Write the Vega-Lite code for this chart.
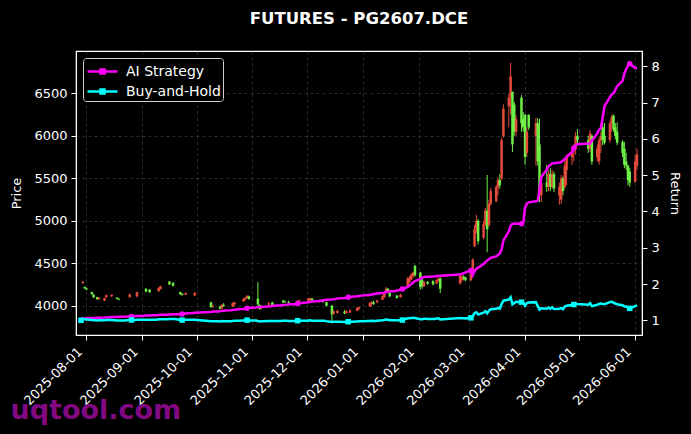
{
"$schema": "https://vega.github.io/schema/vega-lite/v6.json",
"width": 566, "height": 284,
"autosize": {"type": "none"},
"padding": {"left": 76, "top": 51, "right": 49, "bottom": 99},
"background": "#000000",
"title": {"text": "FUTURES - PG2607.DCE", "color": "#ffffff", "fontSize": 16.5, "fontWeight": "bold", "font": "DejaVu Sans", "anchor": "middle", "baseline": "alphabetic", "offset": 11},
"data": {"values": [
{"d":"2025-07-29","o":4100,"h":4100,"l":4100,"c":4100,"ai":1.0,"bh":1.0},
{"d":"2025-07-30","o":4265,"h":4290,"l":4260,"c":4282,"ai":1.05,"bh":1.044},
{"d":"2025-07-31","o":4220,"h":4225,"l":4200,"c":4205,"ai":1.05,"bh":1.026},
{"d":"2025-08-01","o":4205,"h":4210,"l":4185,"c":4190,"ai":1.055,"bh":1.022},
{"d":"2025-08-04","o":4160,"h":4165,"l":4130,"c":4135,"ai":1.06,"bh":1.009},
{"d":"2025-08-05","o":4130,"h":4135,"l":4090,"c":4100,"ai":1.06,"bh":1.0},
{"d":"2025-08-06","o":4100,"h":4100,"l":4100,"c":4100,"ai":1.065,"bh":1.0},
{"d":"2025-08-07","o":4100,"h":4105,"l":4070,"c":4075,"ai":1.07,"bh":0.994},
{"d":"2025-08-08","o":4080,"h":4100,"l":4070,"c":4095,"ai":1.07,"bh":0.999},
{"d":"2025-08-11","o":4060,"h":4095,"l":4055,"c":4090,"ai":1.075,"bh":0.998},
{"d":"2025-08-12","o":4100,"h":4130,"l":4095,"c":4125,"ai":1.08,"bh":1.006},
{"d":"2025-08-13","o":4125,"h":4125,"l":4125,"c":4125,"ai":1.08,"bh":1.006},
{"d":"2025-08-14","o":4125,"h":4125,"l":4125,"c":4125,"ai":1.085,"bh":1.006},
{"d":"2025-08-15","o":4110,"h":4135,"l":4105,"c":4130,"ai":1.09,"bh":1.007},
{"d":"2025-08-18","o":4095,"h":4100,"l":4075,"c":4080,"ai":1.09,"bh":0.995},
{"d":"2025-08-19","o":4080,"h":4085,"l":4065,"c":4070,"ai":1.095,"bh":0.993},
{"d":"2025-08-20","o":4070,"h":4070,"l":4070,"c":4070,"ai":1.095,"bh":0.993},
{"d":"2025-08-21","o":4070,"h":4070,"l":4070,"c":4070,"ai":1.1,"bh":0.993},
{"d":"2025-08-22","o":4070,"h":4070,"l":4070,"c":4070,"ai":1.1,"bh":0.993},
{"d":"2025-08-25","o":4100,"h":4140,"l":4095,"c":4135,"ai":1.105,"bh":1.009},
{"d":"2025-08-26","o":4135,"h":4135,"l":4135,"c":4135,"ai":1.105,"bh":1.009},
{"d":"2025-08-27","o":4135,"h":4135,"l":4135,"c":4135,"ai":1.11,"bh":1.009},
{"d":"2025-08-28","o":4135,"h":4135,"l":4135,"c":4135,"ai":1.115,"bh":1.009},
{"d":"2025-08-29","o":4110,"h":4165,"l":4100,"c":4160,"ai":1.12,"bh":1.015},
{"d":"2025-09-01","o":4160,"h":4160,"l":4160,"c":4160,"ai":1.12,"bh":1.015},
{"d":"2025-09-02","o":4160,"h":4160,"l":4160,"c":4160,"ai":1.125,"bh":1.015},
{"d":"2025-09-03","o":4200,"h":4205,"l":4160,"c":4165,"ai":1.13,"bh":1.016},
{"d":"2025-09-04","o":4165,"h":4165,"l":4165,"c":4165,"ai":1.13,"bh":1.016},
{"d":"2025-09-05","o":4190,"h":4195,"l":4150,"c":4160,"ai":1.135,"bh":1.015},
{"d":"2025-09-08","o":4160,"h":4160,"l":4160,"c":4160,"ai":1.14,"bh":1.015},
{"d":"2025-09-09","o":4160,"h":4160,"l":4160,"c":4160,"ai":1.14,"bh":1.015},
{"d":"2025-09-10","o":4170,"h":4215,"l":4165,"c":4210,"ai":1.145,"bh":1.027},
{"d":"2025-09-11","o":4195,"h":4235,"l":4190,"c":4230,"ai":1.15,"bh":1.032},
{"d":"2025-09-12","o":4230,"h":4230,"l":4230,"c":4230,"ai":1.15,"bh":1.032},
{"d":"2025-09-15","o":4230,"h":4230,"l":4230,"c":4230,"ai":1.155,"bh":1.032},
{"d":"2025-09-16","o":4285,"h":4290,"l":4245,"c":4250,"ai":1.16,"bh":1.037},
{"d":"2025-09-17","o":4250,"h":4250,"l":4250,"c":4250,"ai":1.16,"bh":1.037},
{"d":"2025-09-18","o":4270,"h":4275,"l":4225,"c":4235,"ai":1.165,"bh":1.033},
{"d":"2025-09-19","o":4235,"h":4235,"l":4235,"c":4235,"ai":1.17,"bh":1.033},
{"d":"2025-09-22","o":4160,"h":4165,"l":4130,"c":4135,"ai":1.17,"bh":1.009},
{"d":"2025-09-23","o":4140,"h":4145,"l":4120,"c":4125,"ai":1.175,"bh":1.006},
{"d":"2025-09-24","o":4125,"h":4125,"l":4125,"c":4125,"ai":1.18,"bh":1.006},
{"d":"2025-09-25","o":4130,"h":4155,"l":4125,"c":4150,"ai":1.19,"bh":1.012},
{"d":"2025-09-26","o":4150,"h":4150,"l":4150,"c":4150,"ai":1.195,"bh":1.012},
{"d":"2025-09-29","o":4150,"h":4150,"l":4150,"c":4150,"ai":1.2,"bh":1.012},
{"d":"2025-09-30","o":4120,"h":4160,"l":4115,"c":4150,"ai":1.21,"bh":1.012},
{"d":"2025-10-09","o":4040,"h":4045,"l":3975,"c":3985,"ai":1.23,"bh":0.972},
{"d":"2025-10-10","o":3990,"h":4010,"l":3970,"c":4000,"ai":1.24,"bh":0.976},
{"d":"2025-10-13","o":4000,"h":4000,"l":4000,"c":4000,"ai":1.245,"bh":0.976},
{"d":"2025-10-14","o":3990,"h":4000,"l":3955,"c":3965,"ai":1.25,"bh":0.967},
{"d":"2025-10-15","o":3970,"h":4020,"l":3960,"c":4010,"ai":1.26,"bh":0.978},
{"d":"2025-10-16","o":4010,"h":4030,"l":3990,"c":3995,"ai":1.265,"bh":0.974},
{"d":"2025-10-17","o":3995,"h":3995,"l":3995,"c":3995,"ai":1.27,"bh":0.974},
{"d":"2025-10-20","o":3995,"h":3995,"l":3995,"c":3995,"ai":1.28,"bh":0.974},
{"d":"2025-10-21","o":3990,"h":4040,"l":3985,"c":4030,"ai":1.285,"bh":0.983},
{"d":"2025-10-22","o":4015,"h":4045,"l":4000,"c":4040,"ai":1.29,"bh":0.985},
{"d":"2025-10-23","o":4040,"h":4040,"l":4040,"c":4040,"ai":1.3,"bh":0.985},
{"d":"2025-10-24","o":4040,"h":4040,"l":4040,"c":4040,"ai":1.305,"bh":0.985},
{"d":"2025-10-27","o":4050,"h":4090,"l":4045,"c":4080,"ai":1.31,"bh":0.995},
{"d":"2025-10-28","o":4075,"h":4100,"l":4060,"c":4095,"ai":1.32,"bh":0.999},
{"d":"2025-10-29","o":4090,"h":4125,"l":4085,"c":4115,"ai":1.33,"bh":1.004},
{"d":"2025-10-30","o":4110,"h":4120,"l":4070,"c":4080,"ai":1.34,"bh":0.995},
{"d":"2025-10-31","o":4080,"h":4080,"l":4080,"c":4080,"ai":1.345,"bh":0.995},
{"d":"2025-11-03","o":4080,"h":4080,"l":4080,"c":4080,"ai":1.35,"bh":0.995},
{"d":"2025-11-04","o":4085,"h":4280,"l":4000,"c":4015,"ai":1.36,"bh":0.979},
{"d":"2025-11-05","o":4010,"h":4015,"l":3950,"c":3965,"ai":1.365,"bh":0.967},
{"d":"2025-11-06","o":3970,"h":4000,"l":3960,"c":3990,"ai":1.37,"bh":0.973},
{"d":"2025-11-07","o":3990,"h":3990,"l":3990,"c":3990,"ai":1.375,"bh":0.973},
{"d":"2025-11-10","o":4010,"h":4040,"l":4005,"c":4030,"ai":1.38,"bh":0.983},
{"d":"2025-11-11","o":4030,"h":4030,"l":4030,"c":4030,"ai":1.39,"bh":0.983},
{"d":"2025-11-12","o":4040,"h":4045,"l":4000,"c":4010,"ai":1.395,"bh":0.978},
{"d":"2025-11-13","o":4010,"h":4010,"l":4010,"c":4010,"ai":1.4,"bh":0.978},
{"d":"2025-11-14","o":4010,"h":4010,"l":4010,"c":4010,"ai":1.405,"bh":0.978},
{"d":"2025-11-17","o":4010,"h":4010,"l":4010,"c":4010,"ai":1.41,"bh":0.978},
{"d":"2025-11-18","o":4060,"h":4070,"l":4030,"c":4040,"ai":1.42,"bh":0.985},
{"d":"2025-11-19","o":4050,"h":4060,"l":4035,"c":4040,"ai":1.425,"bh":0.985},
{"d":"2025-11-20","o":4040,"h":4040,"l":4040,"c":4040,"ai":1.43,"bh":0.985},
{"d":"2025-11-21","o":4045,"h":4060,"l":4030,"c":4035,"ai":1.44,"bh":0.984},
{"d":"2025-11-24","o":4035,"h":4035,"l":4035,"c":4035,"ai":1.445,"bh":0.984},
{"d":"2025-11-25","o":4035,"h":4035,"l":4035,"c":4035,"ai":1.45,"bh":0.984},
{"d":"2025-11-26","o":4030,"h":4065,"l":4020,"c":4055,"ai":1.46,"bh":0.989},
{"d":"2025-11-27","o":4055,"h":4070,"l":4040,"c":4060,"ai":1.47,"bh":0.99},
{"d":"2025-11-28","o":4060,"h":4060,"l":4060,"c":4060,"ai":1.48,"bh":0.99},
{"d":"2025-12-01","o":4060,"h":4060,"l":4060,"c":4060,"ai":1.49,"bh":0.99},
{"d":"2025-12-02","o":4050,"h":4090,"l":4045,"c":4085,"ai":1.5,"bh":0.996},
{"d":"2025-12-03","o":4070,"h":4095,"l":4060,"c":4090,"ai":1.505,"bh":0.998},
{"d":"2025-12-04","o":4085,"h":4090,"l":4050,"c":4060,"ai":1.515,"bh":0.99},
{"d":"2025-12-05","o":4060,"h":4060,"l":4060,"c":4060,"ai":1.52,"bh":0.99},
{"d":"2025-12-08","o":4065,"h":4070,"l":4040,"c":4050,"ai":1.53,"bh":0.988},
{"d":"2025-12-09","o":4050,"h":4050,"l":4050,"c":4050,"ai":1.54,"bh":0.988},
{"d":"2025-12-10","o":4060,"h":4065,"l":4035,"c":4045,"ai":1.55,"bh":0.987},
{"d":"2025-12-11","o":4045,"h":4045,"l":4045,"c":4045,"ai":1.555,"bh":0.987},
{"d":"2025-12-12","o":4040,"h":4045,"l":3990,"c":4000,"ai":1.565,"bh":0.976},
{"d":"2025-12-15","o":4000,"h":4010,"l":3810,"c":3900,"ai":1.57,"bh":0.951},
{"d":"2025-12-16","o":3905,"h":3945,"l":3895,"c":3935,"ai":1.58,"bh":0.96},
{"d":"2025-12-17","o":3935,"h":3935,"l":3935,"c":3935,"ai":1.59,"bh":0.96},
{"d":"2025-12-18","o":3915,"h":3950,"l":3905,"c":3940,"ai":1.6,"bh":0.961},
{"d":"2025-12-19","o":3940,"h":3940,"l":3940,"c":3940,"ai":1.61,"bh":0.961},
{"d":"2025-12-22","o":3930,"h":3950,"l":3900,"c":3910,"ai":1.615,"bh":0.954},
{"d":"2025-12-23","o":3915,"h":3945,"l":3905,"c":3935,"ai":1.625,"bh":0.96},
{"d":"2025-12-24","o":3935,"h":3935,"l":3935,"c":3935,"ai":1.635,"bh":0.96},
{"d":"2025-12-25","o":3920,"h":3955,"l":3915,"c":3945,"ai":1.645,"bh":0.962},
{"d":"2025-12-26","o":3945,"h":3945,"l":3945,"c":3945,"ai":1.65,"bh":0.962},
{"d":"2025-12-29","o":3940,"h":3985,"l":3935,"c":3975,"ai":1.66,"bh":0.97},
{"d":"2025-12-30","o":3965,"h":3990,"l":3950,"c":3980,"ai":1.67,"bh":0.971},
{"d":"2025-12-31","o":3980,"h":3980,"l":3980,"c":3980,"ai":1.68,"bh":0.971},
{"d":"2026-01-05","o":3990,"h":4045,"l":3985,"c":4030,"ai":1.7,"bh":0.983},
{"d":"2026-01-06","o":4020,"h":4050,"l":4000,"c":4040,"ai":1.71,"bh":0.985},
{"d":"2026-01-07","o":4040,"h":4060,"l":4010,"c":4020,"ai":1.72,"bh":0.98},
{"d":"2026-01-08","o":4020,"h":4020,"l":4020,"c":4020,"ai":1.73,"bh":0.98},
{"d":"2026-01-09","o":4040,"h":4070,"l":4030,"c":4060,"ai":1.74,"bh":0.99},
{"d":"2026-01-12","o":4070,"h":4120,"l":4065,"c":4110,"ai":1.75,"bh":1.002},
{"d":"2026-01-13","o":4100,"h":4150,"l":4090,"c":4140,"ai":1.76,"bh":1.01},
{"d":"2026-01-14","o":4150,"h":4220,"l":4140,"c":4200,"ai":1.78,"bh":1.024},
{"d":"2026-01-15","o":4200,"h":4210,"l":4150,"c":4160,"ai":1.79,"bh":1.015},
{"d":"2026-01-16","o":4150,"h":4170,"l":4100,"c":4110,"ai":1.8,"bh":1.002},
{"d":"2026-01-19","o":4110,"h":4110,"l":4110,"c":4110,"ai":1.81,"bh":1.002},
{"d":"2026-01-20","o":4120,"h":4125,"l":4085,"c":4090,"ai":1.82,"bh":0.998},
{"d":"2026-01-21","o":4090,"h":4090,"l":4090,"c":4090,"ai":1.83,"bh":0.998},
{"d":"2026-01-22","o":4100,"h":4140,"l":4095,"c":4130,"ai":1.85,"bh":1.007},
{"d":"2026-01-23","o":4130,"h":4130,"l":4130,"c":4130,"ai":1.86,"bh":1.007},
{"d":"2026-01-26","o":4220,"h":4340,"l":4210,"c":4320,"ai":1.92,"bh":1.054},
{"d":"2026-01-27","o":4280,"h":4350,"l":4270,"c":4330,"ai":1.96,"bh":1.056},
{"d":"2026-01-28","o":4310,"h":4380,"l":4300,"c":4370,"ai":2.0,"bh":1.066},
{"d":"2026-01-29","o":4350,"h":4400,"l":4330,"c":4390,"ai":2.04,"bh":1.071},
{"d":"2026-01-30","o":4470,"h":4480,"l":4340,"c":4360,"ai":2.08,"bh":1.063},
{"d":"2026-02-02","o":4390,"h":4400,"l":4190,"c":4220,"ai":2.14,"bh":1.029},
{"d":"2026-02-03","o":4300,"h":4320,"l":4200,"c":4230,"ai":2.18,"bh":1.032},
{"d":"2026-02-04","o":4230,"h":4290,"l":4220,"c":4280,"ai":2.19,"bh":1.044},
{"d":"2026-02-05","o":4280,"h":4280,"l":4280,"c":4280,"ai":2.2,"bh":1.044},
{"d":"2026-02-06","o":4280,"h":4290,"l":4245,"c":4260,"ai":2.2,"bh":1.039},
{"d":"2026-02-09","o":4290,"h":4300,"l":4240,"c":4250,"ai":2.21,"bh":1.037},
{"d":"2026-02-10","o":4250,"h":4250,"l":4250,"c":4250,"ai":2.21,"bh":1.037},
{"d":"2026-02-11","o":4260,"h":4310,"l":4255,"c":4300,"ai":2.22,"bh":1.049},
{"d":"2026-02-12","o":4290,"h":4330,"l":4285,"c":4320,"ai":2.22,"bh":1.054},
{"d":"2026-02-13","o":4320,"h":4335,"l":4150,"c":4200,"ai":2.23,"bh":1.024},
{"d":"2026-02-24","o":4260,"h":4370,"l":4250,"c":4350,"ai":2.26,"bh":1.061},
{"d":"2026-02-25","o":4300,"h":4360,"l":4280,"c":4340,"ai":2.28,"bh":1.059},
{"d":"2026-02-26","o":4340,"h":4360,"l":4300,"c":4320,"ai":2.3,"bh":1.054},
{"d":"2026-02-27","o":4330,"h":4340,"l":4290,"c":4300,"ai":2.32,"bh":1.049},
{"d":"2026-03-02","o":4300,"h":4400,"l":4290,"c":4380,"ai":2.37,"bh":1.068},
{"d":"2026-03-03","o":4400,"h":4560,"l":4390,"c":4540,"ai":2.24,"bh":1.107},
{"d":"2026-03-04","o":4700,"h":4950,"l":4690,"c":4900,"ai":2.35,"bh":1.195},
{"d":"2026-03-05","o":4900,"h":5070,"l":4850,"c":5000,"ai":2.42,"bh":1.22},
{"d":"2026-03-06","o":5000,"h":5020,"l":4720,"c":4760,"ai":2.45,"bh":1.161},
{"d":"2026-03-09","o":4800,"h":5000,"l":4780,"c":4960,"ai":2.55,"bh":1.21},
{"d":"2026-03-10","o":4960,"h":5150,"l":4940,"c":5120,"ai":2.6,"bh":1.249},
{"d":"2026-03-11","o":5120,"h":5540,"l":4630,"c":4900,"ai":2.65,"bh":1.195},
{"d":"2026-03-12","o":4950,"h":5250,"l":4930,"c":5200,"ai":2.68,"bh":1.268},
{"d":"2026-03-13","o":5200,"h":5390,"l":5180,"c":5350,"ai":2.72,"bh":1.305},
{"d":"2026-03-16","o":5230,"h":5420,"l":5220,"c":5400,"ai":2.76,"bh":1.317},
{"d":"2026-03-17","o":5400,"h":5510,"l":5300,"c":5480,"ai":2.8,"bh":1.337},
{"d":"2026-03-18","o":5480,"h":5550,"l":5380,"c":5420,"ai":2.84,"bh":1.322},
{"d":"2026-03-19","o":5500,"h":5980,"l":5480,"c":5950,"ai":2.95,"bh":1.451},
{"d":"2026-03-20","o":6000,"h":6370,"l":5980,"c":6320,"ai":3.2,"bh":1.541},
{"d":"2026-03-23","o":6350,"h":6500,"l":6100,"c":6450,"ai":3.45,"bh":1.573},
{"d":"2026-03-24","o":6450,"h":6860,"l":6250,"c":6700,"ai":3.6,"bh":1.634},
{"d":"2026-03-25","o":6520,"h":6520,"l":5810,"c":5900,"ai":3.66,"bh":1.439},
{"d":"2026-03-26","o":6370,"h":6400,"l":6000,"c":6050,"ai":3.66,"bh":1.476},
{"d":"2026-03-27","o":6050,"h":6250,"l":6000,"c":6200,"ai":3.66,"bh":1.512},
{"d":"2026-03-30","o":6450,"h":6480,"l":6050,"c":6150,"ai":3.66,"bh":1.5},
{"d":"2026-03-31","o":6200,"h":6280,"l":6050,"c":6100,"ai":3.7,"bh":1.488},
{"d":"2026-04-01","o":6250,"h":6250,"l":5660,"c":5750,"ai":4.1,"bh":1.402},
{"d":"2026-04-02","o":5800,"h":6100,"l":5750,"c":6050,"ai":4.21,"bh":1.476},
{"d":"2026-04-03","o":6250,"h":6250,"l":6070,"c":6100,"ai":4.25,"bh":1.488},
{"d":"2026-04-07","o":6000,"h":6210,"l":5650,"c":6150,"ai":4.28,"bh":1.5},
{"d":"2026-04-08","o":6150,"h":6210,"l":5650,"c":5700,"ai":4.3,"bh":1.39},
{"d":"2026-04-09","o":5900,"h":6200,"l":5220,"c":5300,"ai":4.6,"bh":1.293},
{"d":"2026-04-10","o":5300,"h":5480,"l":5220,"c":5450,"ai":4.95,"bh":1.329},
{"d":"2026-04-13","o":5450,"h":5660,"l":5340,"c":5400,"ai":5.15,"bh":1.317},
{"d":"2026-04-14","o":5400,"h":5600,"l":5350,"c":5550,"ai":5.25,"bh":1.354},
{"d":"2026-04-15","o":5550,"h":5620,"l":5350,"c":5400,"ai":5.28,"bh":1.317},
{"d":"2026-04-16","o":5400,"h":5600,"l":5380,"c":5550,"ai":5.32,"bh":1.354},
{"d":"2026-04-17","o":5550,"h":5580,"l":5340,"c":5380,"ai":5.33,"bh":1.312},
{"d":"2026-04-20","o":5300,"h":5450,"l":5190,"c":5400,"ai":5.35,"bh":1.317},
{"d":"2026-04-21","o":5250,"h":5540,"l":5200,"c":5500,"ai":5.36,"bh":1.341},
{"d":"2026-04-22","o":5500,"h":5520,"l":5300,"c":5350,"ai":5.4,"bh":1.305},
{"d":"2026-04-23","o":5400,"h":5700,"l":5380,"c":5650,"ai":5.45,"bh":1.378},
{"d":"2026-04-24","o":5600,"h":5780,"l":5420,"c":5750,"ai":5.5,"bh":1.402},
{"d":"2026-04-27","o":5750,"h":5860,"l":5660,"c":5820,"ai":5.64,"bh":1.42},
{"d":"2026-04-28","o":5820,"h":5900,"l":5700,"c":5880,"ai":5.75,"bh":1.434},
{"d":"2026-04-29","o":5850,"h":6050,"l":5780,"c":6000,"ai":5.82,"bh":1.463},
{"d":"2026-04-30","o":6000,"h":6080,"l":5900,"c":5950,"ai":5.85,"bh":1.451},
{"d":"2026-05-06","o":5950,"h":6000,"l":5800,"c":5850,"ai":5.87,"bh":1.427},
{"d":"2026-05-07","o":5850,"h":6070,"l":5810,"c":6030,"ai":5.87,"bh":1.471},
{"d":"2026-05-08","o":6000,"h":6020,"l":5660,"c":5700,"ai":5.95,"bh":1.39},
{"d":"2026-05-11","o":5750,"h":5900,"l":5700,"c":5850,"ai":6.15,"bh":1.427},
{"d":"2026-05-12","o":5700,"h":5980,"l":5660,"c":5950,"ai":6.25,"bh":1.451},
{"d":"2026-05-13","o":5950,"h":6050,"l":5800,"c":6000,"ai":6.3,"bh":1.463},
{"d":"2026-05-14","o":6100,"h":6160,"l":5890,"c":5950,"ai":6.6,"bh":1.451},
{"d":"2026-05-15","o":6000,"h":6150,"l":5900,"c":5920,"ai":6.9,"bh":1.444},
{"d":"2026-05-18","o":5950,"h":6180,"l":5920,"c":6150,"ai":7.15,"bh":1.5},
{"d":"2026-05-19","o":6150,"h":6250,"l":6050,"c":6220,"ai":7.22,"bh":1.517},
{"d":"2026-05-20","o":6240,"h":6250,"l":6050,"c":6080,"ai":7.25,"bh":1.483},
{"d":"2026-05-21","o":6100,"h":6150,"l":5960,"c":6000,"ai":7.35,"bh":1.463},
{"d":"2026-05-22","o":6050,"h":6160,"l":5890,"c":5920,"ai":7.45,"bh":1.444},
{"d":"2026-05-25","o":5930,"h":5950,"l":5750,"c":5800,"ai":7.6,"bh":1.415},
{"d":"2026-05-26","o":5850,"h":5930,"l":5620,"c":5660,"ai":7.8,"bh":1.38},
{"d":"2026-05-27","o":5700,"h":5800,"l":5600,"c":5650,"ai":7.92,"bh":1.378},
{"d":"2026-05-28","o":5650,"h":5660,"l":5420,"c":5480,"ai":8.02,"bh":1.337},
{"d":"2026-05-29","o":5580,"h":5620,"l":5400,"c":5450,"ai":8.07,"bh":1.329},
{"d":"2026-06-01","o":5460,"h":5780,"l":5450,"c":5700,"ai":7.95,"bh":1.39},
{"d":"2026-06-02","o":5650,"h":5850,"l":5600,"c":5780,"ai":7.95,"bh":1.41}
]},
"encoding": {
  "x": {"field": "d", "type": "temporal",
    "scale": {"type": "utc", "domain": [{"year": 2025, "month": 7, "date": 29, "utc": true}, {"year": 2026, "month": 6, "date": 2, "utc": true}]},
    "axis": {"format": "%Y-%m-%d", "tickCount": {"interval": "month", "step": 1}, "labelAngle": -45, "labelAlign": "right", "labelBaseline": "top", "labelOffset": -11, "labelPadding": 5, "labelFlush": false, "labelOverlap": false, "grid": true,
      "title": "uqtool.com", "titleColor": "#8b0a8b", "titleOpacity": 0.95, "titleFontSize": 27, "titleFontWeight": "bold", "titleFont": "DejaVu Sans", "titleAngle": 0, "titleAlign": "left", "titleBaseline": "alphabetic", "titleAnchor": "start", "titleX": -66, "titleY": 83}}
},
"layer": [
  {
    "layer": [
      {"mark": {"type": "rule", "strokeWidth": 1, "clip": true},
       "encoding": {
         "y": {"field": "l", "type": "quantitative", "scale": {"domain": [3655, 7000], "zero": false, "nice": false},
               "axis": {"title": "Price", "orient": "left", "values": [4000, 4500, 5000, 5500, 6000, 6500], "format": "d", "grid": true, "titlePadding": 10}},
         "y2": {"field": "h"},
         "color": {"condition": {"test": "datum.c >= datum.o", "value": "#e64a3c"}, "value": "#6ef046"}}},
      {"mark": {"type": "bar", "width": 2.5, "clip": true},
       "encoding": {
         "y": {"field": "o", "type": "quantitative"},
         "y2": {"field": "c"},
         "color": {"condition": {"test": "datum.c >= datum.o", "value": "#e64a3c"}, "value": "#6ef046"}}}
    ]
  },
  {
    "layer": [
      {"mark": {"type": "line", "strokeWidth": 2.5, "clip": true},
       "encoding": {
         "y": {"field": "ai", "type": "quantitative", "scale": {"domain": [0.595, 8.42], "zero": false, "nice": false},
               "axis": {"title": "Return", "orient": "right", "values": [1, 2, 3, 4, 5, 6, 7, 8], "grid": false, "titlePadding": 8}},
         "color": {"datum": "AI Strategy", "type": "nominal",
           "scale": {"domain": ["AI Strategy", "Buy-and-Hold"], "range": ["#ff00ff", "#00ffff"]},
           "legend": {"orient": "top-left", "offset": 7, "title": null, "fillColor": "#000000", "strokeColor": "#cccccc", "cornerRadius": 3, "padding": 2,
             "labelColor": "#ffffff", "labelFontSize": 14, "labelFont": "DejaVu Sans", "labelOffset": 12, "rowPadding": 1, "symbolOffset": 6,
             "symbolType": "M-1.5,0L1.5,0M-0.2,-0.2L0.2,-0.2L0.2,0.2L-0.2,0.2Z", "symbolSize": 400, "symbolStrokeWidth": 2.5}}}},
      {"mark": {"type": "line", "strokeWidth": 2.5, "clip": true},
       "encoding": {
         "y": {"field": "bh", "type": "quantitative"},
         "color": {"datum": "Buy-and-Hold", "type": "nominal"}}},
      {"transform": [{"window": [{"op": "row_number", "as": "i"}]}, {"filter": "(datum.i - 1) % 20 == 0"}],
       "mark": {"type": "point", "shape": "circle", "filled": true, "size": 30, "opacity": 1, "clip": true},
       "encoding": {
         "y": {"field": "ai", "type": "quantitative"},
         "color": {"datum": "AI Strategy", "type": "nominal"}}},
      {"transform": [{"window": [{"op": "row_number", "as": "i"}]}, {"filter": "(datum.i - 1) % 20 == 0"}],
       "mark": {"type": "point", "shape": "square", "filled": true, "size": 30, "opacity": 1, "clip": true},
       "encoding": {
         "y": {"field": "bh", "type": "quantitative"},
         "color": {"datum": "Buy-and-Hold", "type": "nominal"}}}
    ]
  }
],
"resolve": {"scale": {"y": "independent"}},
"config": {
  "font": "DejaVu Sans",
  "view": {"stroke": "#ffffff", "strokeWidth": 1.2},
  "axis": {"labelColor": "#ffffff", "titleColor": "#ffffff", "labelFontSize": 13, "titleFontSize": 13, "titleFontWeight": "normal", "labelFont": "DejaVu Sans", "titleFont": "DejaVu Sans",
    "tickColor": "#ffffff", "domainColor": "#ffffff", "tickSize": 5, "labelPadding": 4,
    "gridColor": "#9a9a9a", "gridOpacity": 0.45, "gridDash": [3, 3], "gridWidth": 0.6}
}
}
